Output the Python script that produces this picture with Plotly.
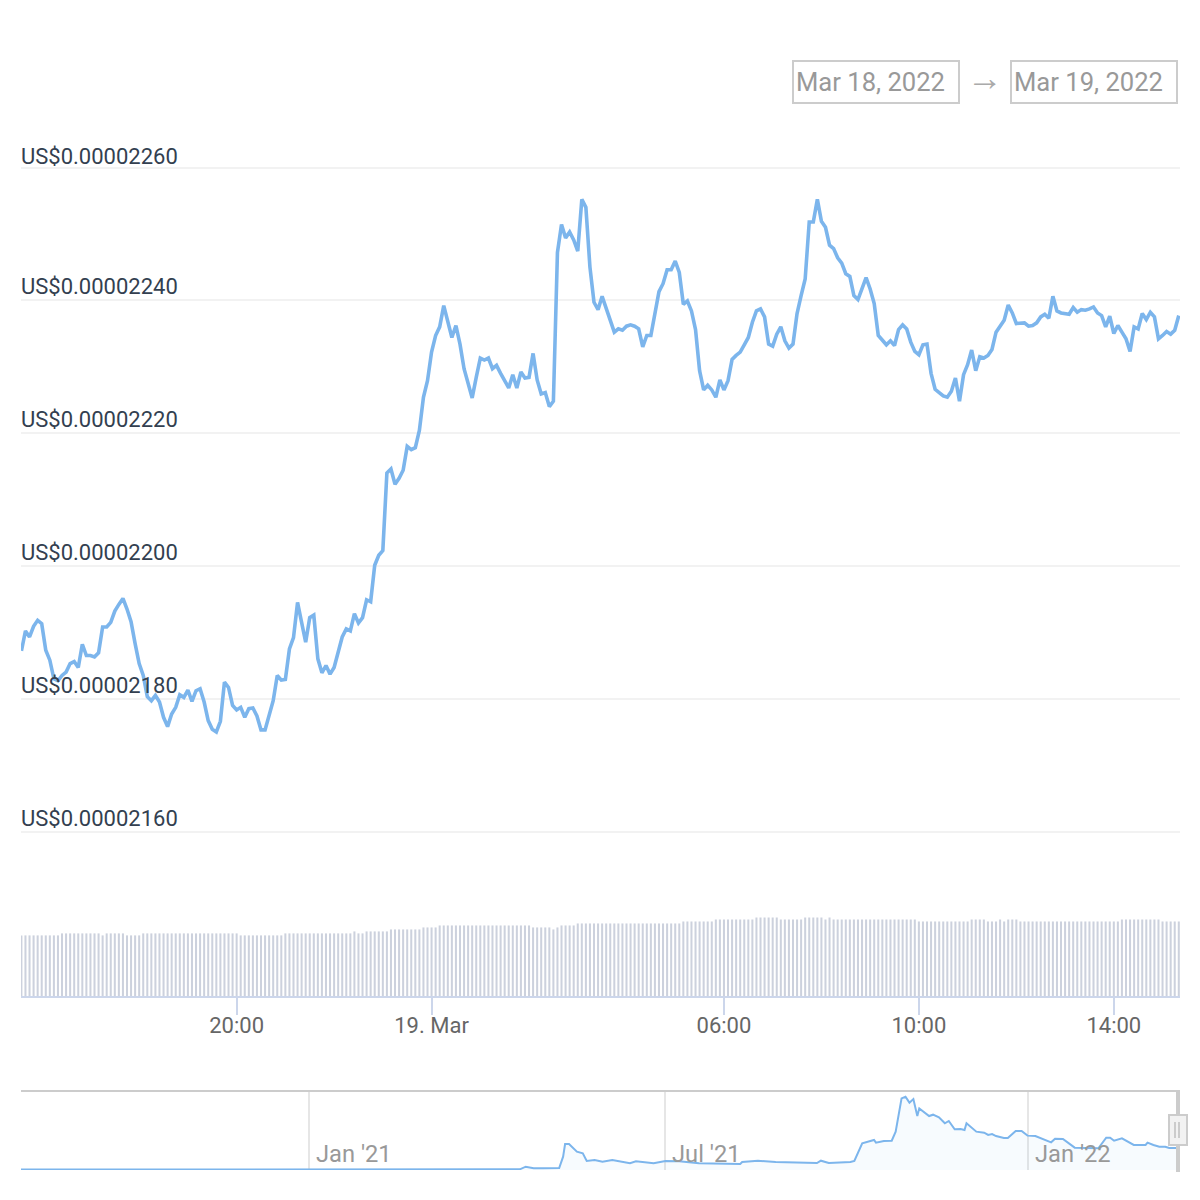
import pandas as pd
import plotly.graph_objects as go

# price in units of 1e-8 US$, one reading every five minutes from 18 Mar 15:35
price = [
 2187.2,2190.2,2189.3,2190.9,2191.8,2191.3,2187.3,2185.8,2183.0,2182.7,
 2183.5,2184.0,2185.3,2185.6,2184.7,2188.2,2186.5,2186.5,2186.3,2186.9,
 2190.8,2190.8,2191.5,2193.2,2194.2,2195.1,2193.5,2191.6,2188.3,2185.3,
 2183.5,2180.3,2179.7,2180.5,2179.5,2177.2,2175.8,2177.7,2178.7,2180.6,
 2180.2,2181.3,2179.6,2181.2,2181.5,2179.5,2176.7,2175.4,2175.0,2176.6,
 2182.5,2181.7,2179.0,2178.3,2178.7,2177.2,2178.5,2178.6,2177.4,2175.3,
 2175.3,2177.7,2179.7,2183.5,2182.8,2182.9,2187.5,2189.2,2194.5,2191.5,
 2188.5,2192.2,2192.6,2186.0,2183.9,2185.0,2183.7,2184.7,2186.8,2189.3,
 2190.5,2190.2,2192.8,2191.4,2192.2,2194.9,2194.6,2200.1,2201.6,2202.3,
 2214.0,2214.6,2212.3,2213.2,2214.4,2218.0,2217.5,2217.8,2220.4,2225.4,
 2227.9,2232.2,2234.7,2236.0,2239.2,2236.7,2234.4,2236.2,2233.4,2229.7,
 2227.4,2225.3,2228.4,2231.3,2231.0,2231.3,2229.7,2230.2,2229.0,2227.8,
 2226.8,2228.8,2226.8,2229.2,2228.3,2228.4,2232.0,2228.0,2225.9,2226.1,
 2224.0,2224.8,2247.2,2251.4,2249.4,2250.3,2249.1,2247.4,2255.2,2254.0,
 2245.0,2239.7,2238.6,2240.6,2238.7,2237.2,2235.2,2235.7,2235.5,2236.1,
 2236.3,2236.1,2235.7,2233.0,2234.7,2234.7,2238.2,2241.3,2242.5,2244.6,
 2244.6,2245.9,2244.2,2239.4,2239.9,2238.4,2235.6,2229.4,2226.5,2227.2,
 2226.5,2225.4,2228.0,2226.5,2227.9,2231.1,2231.7,2232.2,2233.3,2234.4,
 2236.7,2238.4,2238.7,2237.5,2233.4,2233.1,2234.9,2236.0,2233.9,2232.8,
 2233.4,2238.0,2240.7,2243.2,2251.8,2251.8,2255.2,2251.9,2251.0,2248.3,
 2247.8,2246.4,2245.6,2244.0,2243.6,2240.7,2240.1,2241.7,2243.4,2241.7,
 2239.5,2234.7,2233.9,2233.3,2233.9,2233.2,2235.6,2236.3,2235.7,2233.7,
 2232.3,2231.8,2233.3,2233.4,2229.0,2226.6,2226.1,2225.6,2225.4,2226.3,
 2228.3,2224.8,2228.8,2230.3,2232.5,2229.4,2231.5,2231.3,2231.7,2232.6,
 2235.2,2236.2,2237.0,2239.3,2238.1,2236.5,2236.5,2236.6,2236.1,2236.2,
 2236.6,2237.5,2237.9,2237.3,2240.6,2238.4,2238.1,2238.0,2237.9,2238.9,
 2238.2,2238.6,2238.5,2238.7,2239.0,2238.1,2237.7,2236.0,2237.6,2235.0,
 2236.2,2235.2,2234.2,2232.3,2236.0,2235.7,2238.0,2237.1,2238.2,2237.5,
 2234.2,2234.7,2235.3,2234.9,2235.5,2237.7,
]

# volume, estimated relative units
volume = [
 61,61,61,61,61,61,61,61,61,61,63,63,63,63,63,63,63,63,63,63,
 61,63,63,63,63,63,61,61,61,61,63,63,63,63,63,63,63,63,63,63,
 63,63,63,63,63,63,63,63,63,63,63,63,63,63,61,61,61,61,61,61,
 61,61,61,61,61,63,63,63,63,63,63,63,63,63,63,63,63,63,63,63,
 63,63,65,63,63,65,65,65,65,65,65,67,67,67,67,67,67,67,67,69,
 69,69,69,71,71,71,71,71,71,71,71,71,71,71,71,71,71,71,71,71,
 71,71,71,71,71,71,69,69,69,69,69,67,69,71,71,71,71,73,73,73,
 73,73,73,73,73,73,73,73,73,73,73,73,73,73,73,73,73,73,73,73,
 73,73,73,75,75,75,75,75,75,75,75,77,77,77,77,77,77,77,77,77,
 77,79,79,79,79,79,79,77,77,77,77,77,77,79,79,79,79,79,77,79,
 77,77,77,77,77,77,77,77,77,77,77,77,77,77,77,77,77,77,77,77,
 77,75,75,75,75,75,75,75,75,75,75,75,75,75,77,77,77,77,75,75,
 75,77,75,77,77,77,75,75,75,75,75,75,75,75,75,75,75,75,75,75,
 75,75,75,75,75,75,75,75,75,75,75,77,77,77,77,77,77,77,77,77,
 77,75,75,75,75,75,
]

x_times = pd.date_range("2022-03-18 15:35", periods=len(price), freq="5min")

y_ticks = [2160, 2180, 2200, 2220, 2240, 2260]
y_labels = ["US$0.00002160", "US$0.00002180", "US$0.00002200",
            "US$0.00002220", "US$0.00002240", "US$0.00002260"]
x_tickvals = ["2022-03-18 20:00", "2022-03-19 00:00", "2022-03-19 06:00",
              "2022-03-19 10:00", "2022-03-19 14:00"]
x_ticktext = ["20:00", "19. Mar", "06:00", "10:00", "14:00"]

# navigator: long history, price in units of 1e-6 US$
nav_dates = [
 "2020-08-07","2021-01-01","2021-04-08","2021-04-18","2021-04-21","2021-04-25","2021-04-30",
 "2021-05-08","2021-05-10","2021-05-11","2021-05-13","2021-05-17","2021-05-20","2021-05-22",
 "2021-05-26","2021-05-30","2021-06-04","2021-06-13","2021-06-16","2021-06-25","2021-07-01",
 "2021-07-08","2021-07-18","2021-08-08","2021-08-09","2021-08-17","2021-08-26","2021-09-07",
 "2021-09-16","2021-09-18","2021-09-22","2021-10-03","2021-10-05","2021-10-09","2021-10-15",
 "2021-10-16","2021-10-20","2021-10-24","2021-10-26","2021-10-29","2021-10-31","2021-11-02",
 "2021-11-04","2021-11-06","2021-11-07","2021-11-12","2021-11-14","2021-11-17","2021-11-20",
 "2021-11-22","2021-11-25","2021-11-28","2021-11-30","2021-12-01","2021-12-06","2021-12-10",
 "2021-12-12","2021-12-14","2021-12-16","2021-12-20","2021-12-22","2021-12-26","2021-12-29",
 "2022-01-01","2022-01-05","2022-01-13","2022-01-15","2022-01-19","2022-01-25","2022-02-06",
 "2022-02-10","2022-02-12","2022-02-14","2022-02-18","2022-02-24","2022-03-02","2022-03-03",
 "2022-03-06","2022-03-09","2022-03-12","2022-03-14","2022-03-18",
]
nav_values = [
 0.5,0.5,0.7,0.7,3.4,1.7,1.7,
 2.1,13.7,26.8,26.8,18.9,17.2,9.3,
 10.3,8.6,10.3,6.9,8.9,6.9,9.3,
 8.9,6.9,6.2,8.2,9.6,8.2,7.2,
 7.2,9.6,7.2,8.2,9.3,27.5,30.9,
 28.2,29.9,30.2,39.5,73.8,75.5,69.4,
 73.1,55.6,63.5,55.6,57.0,54.2,48.1,
 50.5,41.9,42.2,41.2,48.1,39.5,38.5,
 36.1,37.1,35.0,33.0,33.0,40.2,40.2,
 35.4,35.0,28.5,32.3,31.9,23.0,22.3,
 33.3,33.3,30.2,32.6,25.8,25.8,28.2,
 25.8,24.0,24.0,22.7,22.7,
]
nav_ticks = ["2021-01-01", "2021-07-01", "2022-01-01"]
nav_labels = ["Jan '21", "Jul '21", "Jan '22"]

W, H = 1200, 1200
def px(v): return v / W
def py(v): return 1 - v / H

BLUE = "#7cb5ec"
FONT = "Roboto"

fig = go.Figure()
fig.add_trace(go.Bar(x=x_times, y=volume, xaxis="x", yaxis="y2", width=150000,
                     marker=dict(color="#ccd1dd", line=dict(width=0))))
fig.add_trace(go.Scatter(x=x_times, y=price, xaxis="x", yaxis="y", mode="lines",
                         line=dict(color=BLUE, width=3.6)))
fig.add_trace(go.Scatter(x=nav_dates, y=nav_values, xaxis="x2", yaxis="y3", mode="lines",
                         line=dict(color=BLUE, width=2), fill="tozeroy",
                         fillcolor="rgba(124,181,236,0.06)"))

annotations = []
for t, lab in zip(y_ticks, y_labels):
    annotations.append(dict(xref="paper", yref="y", x=px(20), y=t, text=lab, showarrow=False,
                            xanchor="left", yanchor="bottom", borderpad=0,
                            yshift=-3 if t == 2260 else 0,
                            font=dict(family=FONT, size=22, color="#333f50")))
for d, lab in zip(nav_ticks, nav_labels):
    annotations.append(dict(xref="x2", yref="paper", x=d, y=py(1154), text=lab, showarrow=False,
                            xanchor="left", yanchor="middle", xshift=6, borderpad=0,
                            font=dict(family=FONT, size=23.7, color="#999999")))
for cx, lab in ((795, "Mar 18, 2022"), (1013, "Mar 19, 2022")):
    annotations.append(dict(xref="paper", yref="paper", x=px(cx), y=py(82), text=lab, showarrow=False,
                            xanchor="left", yanchor="middle", borderpad=0,
                            font=dict(family=FONT, size=25.6, color="#999999")))
annotations.append(dict(xref="paper", yref="paper", x=px(985), y=py(78), text="→", showarrow=False,
                        xanchor="center", yanchor="middle", borderpad=0,
                        font=dict(family=FONT, size=36, color="#aaaaaa")))

def box(x0, y0, x1, y1, color="#cccccc", width=2, fill=None):
    d = dict(type="rect", xref="paper", yref="paper", x0=px(x0), x1=px(x1), y0=py(y1), y1=py(y0),
             line=dict(color=color, width=width))
    if fill:
        d["fillcolor"] = fill
    return d

def seg(x0, y0, x1, y1, color="#cccccc", width=2):
    return dict(type="line", xref="paper", yref="paper", x0=px(x0), x1=px(x1), y0=py(y0), y1=py(y1),
                line=dict(color=color, width=width))

shapes = [
    box(793, 61, 959, 103),
    box(1011, 61, 1177, 103),
    seg(21, 1091, 1178, 1091),
    seg(1178, 1090, 1178, 1172, width=4),
    box(1169, 1115, 1187, 1145, fill="#f2f2f2"),
    seg(1175, 1122, 1175, 1138),
    seg(1179, 1122, 1179, 1138),
]

# grid lines must sit just inside the axis range to be drawn at 2160 and 2260
y_px_per_unit = 6.64
y_top_px, y_bot_px = 160.0, 840.0
y_low = 2160 - (y_bot_px - 831.5) / y_px_per_unit
y_high = 2260 + (167.5 - y_top_px) / y_px_per_unit

fig.update_layout(
    width=W, height=H, margin=dict(l=0, r=0, t=0, b=0), showlegend=False,
    paper_bgcolor="white", plot_bgcolor="white", barmode="overlay",
    font=dict(family=FONT),
    annotations=annotations, shapes=shapes,
    xaxis=dict(domain=[px(21), px(1180)], anchor="y2",
               range=["2022-03-18 15:34:30", "2022-03-19 15:21:30"],
               tickmode="array", tickvals=x_tickvals, ticktext=x_ticktext,
               ticks="outside", ticklen=17, tickwidth=2, tickcolor="#ccd6eb",
               ticklabelstandoff=-8,
               showline=True, linecolor="#ccd6eb", linewidth=2, showgrid=False, zeroline=False,
               tickfont=dict(family=FONT, size=22, color="#666666")),
    yaxis=dict(domain=[py(y_bot_px), py(y_top_px)], anchor="x", range=[y_low, y_high],
               tickmode="array", tickvals=y_ticks, showticklabels=False, ticks="",
               showgrid=True, gridcolor="#f2f2f2", gridwidth=2, zeroline=False, showline=False),
    yaxis2=dict(domain=[py(996), py(840)], anchor="x", range=[0, 157],
                showticklabels=False, ticks="", showgrid=False, zeroline=False, showline=False),
    xaxis2=dict(domain=[px(21), px(1180)], anchor="y3",
                range=["2020-08-07 12:00", "2022-03-19 12:00"],
                tickmode="array", tickvals=nav_ticks, showticklabels=False, ticks="",
                showgrid=True, gridcolor="#e6e6e6", gridwidth=2, zeroline=False, showline=False),
    yaxis3=dict(domain=[py(1170), py(1091)], anchor="x2", range=[0, 81.4],
                showticklabels=False, ticks="", showgrid=False, zeroline=False, showline=False),
)

fig.write_html("out.html", config=dict(displayModeBar=False),
               post_script="document.body.style.margin='0';document.body.style.overflow='hidden';")
